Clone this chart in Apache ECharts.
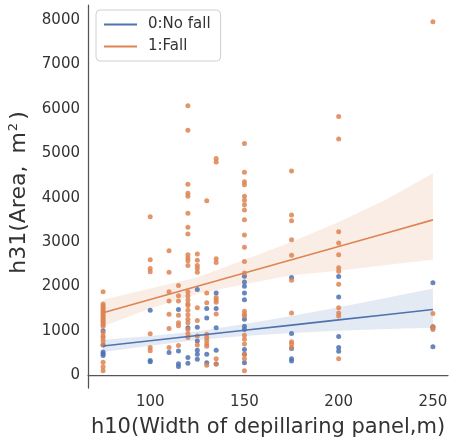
<!DOCTYPE html>
<html>
<head>
<meta charset="utf-8">
<script src="https://cdn.jsdelivr.net/npm/echarts@6/dist/echarts.min.js"></script>
<style>
  html, body { margin: 0; padding: 0; background: #fff; }
  #chart { width: 449px; height: 438px; }
</style>
</head>
<body>
<div id="chart"></div>
<script>
// 每列的宽度（h10）
var widths = [75, 100, 110, 115, 120, 125, 130, 135, 150, 175, 200, 250];

// 1:Fall 面积 (按宽度分组)
var fallArea = [
  [1880, 1600, 1560, 1520, 1480, 1440, 1400, 1360, 1320, 1290, 1250, 1220, 1180, 1140, 1100, 960, 880, 840, 770, 680, 290, 190, 100],
  [3570, 2600, 2400, 2330, 930, 620, 550],
  [2800, 2320, 1880, 1670, 1370, 1050, 620],
  [2020, 1790, 1670, 1350, 1180, 1110, 670],
  [6070, 5520, 4300, 4100, 4030, 3650, 3330, 3180, 2710, 2640, 2580, 2470, 1880, 1790, 1700, 1610, 1570, 1460, 1360, 1260, 1180, 1030, 930, 850],
  [2730, 2590, 2470, 2400, 2320, 1520, 1230, 880, 680],
  [3930, 1850, 1630, 920, 850, 780, 700, 650, 220],
  [4880, 4800, 2620, 2540, 1750, 1700, 1640, 1380, 370, 250],
  [5220, 4570, 4360, 4290, 4030, 3940, 3840, 3720, 3500, 3160, 2880, 2560, 2300, 1440, 1370, 1330, 900, 810, 700, 470, 370, 100],
  [4600, 3610, 3480, 3050, 2700, 2140, 1400, 750, 700, 620],
  [5830, 5320, 3230, 2980, 2710, 2420, 2340, 2050, 1520, 1400, 1330, 370],
  [7960, 1390, 1090, 1030]
];

// 0:No fall 面积
var noFallArea = [
  [1000, 680, 520, 480, 440],
  [1460, 330, 300],
  [510],
  [1480, 545, 255, 195],
  [1070, 400, 265],
  [1930, 1080, 770, 560, 470, 360],
  [1500, 1290, 470, 280],
  [1850, 1500, 1070, 560, 250],
  [2230, 2100, 2000, 1850, 1700, 1260, 1100, 1030, 580, 470, 280],
  [2200, 940, 600, 370, 320],
  [2220, 1760, 870, 620, 540],
  [2080, 1090, 1060, 640]
];

// 回归线和置信区间
var fitX = [75, 100, 125, 150, 175, 200, 225, 250];
var fallFit = [1405, 1704, 2003, 2302, 2600, 2900, 3199, 3498];
var fallLow = [1100, 1500, 1830, 2050, 2250, 2350, 2480, 2600];
var fallHigh = [1700, 1950, 2200, 2600, 3000, 3450, 3950, 4550];
var noFallFit = [657, 774, 892, 1010, 1127, 1245, 1362, 1480];
var noFallLow = [520, 660, 790, 880, 950, 1000, 1040, 1070];
var noFallHigh = [800, 880, 990, 1150, 1330, 1530, 1740, 1950];

var xTicks = [100, 150, 200, 250];
var yTicks = [0, 1000, 2000, 3000, 4000, 5000, 6000, 7000, 8000];

var BLUE = '#4C72B0';
var ORANGE = '#DD8452';

function points(groups) {
  var out = [];
  for (var i = 0; i < groups.length; i++) {
    for (var j = 0; j < groups[i].length; j++) {
      out.push([widths[i], groups[i][j]]);
    }
  }
  return out;
}

function pairs(xs, ys) {
  var out = [];
  for (var i = 0; i < xs.length; i++) out.push([xs[i], ys[i]]);
  return out;
}

// 置信带：用一个多边形画
function band(name, low, high, color) {
  var data = [];
  for (var i = 0; i < fitX.length; i++) data.push([fitX[i], low[i], high[i]]);
  return {
    name: name,
    type: 'custom',
    silent: true,
    data: data,
    encode: { x: 0, y: [1, 2] },
    renderItem: function (params, api) {
      if (params.dataIndex !== 0) return;
      var pts = [];
      for (var i = 0; i < data.length; i++) pts.push(api.coord([data[i][0], data[i][2]]));
      for (var k = data.length - 1; k >= 0; k--) pts.push(api.coord([data[k][0], data[k][1]]));
      return {
        type: 'polygon',
        shape: { points: pts },
        style: { fill: color, opacity: 0.15 }
      };
    }
  };
}

var myChart = echarts.init(document.getElementById('chart'));
var font = 'DejaVu Sans';

myChart.setOption({
  animation: false,
  backgroundColor: '#fff',
  grid: { left: 88, right: 1, top: 5, bottom: 50, outerBoundsMode: 'none', containLabel: false },
  legend: {
    data: ['0:No fall', '1:Fall'],
    orient: 'vertical',
    left: 96,
    top: 10,
    icon: 'rect',
    itemWidth: 33,
    itemHeight: 2,
    itemGap: 7,
    padding: [7, 10, 7, 8],
    borderColor: '#d0d0d0',
    borderWidth: 1,
    borderRadius: 4,
    backgroundColor: '#fff',
    textStyle: { fontFamily: font, fontSize: 15, color: '#333', padding: [0, 0, 0, 6] }
  },
  xAxis: {
    type: 'value',
    min: 67,
    max: 258,
    name: 'h10(Width of depillaring panel,m)',
    nameLocation: 'middle',
    nameGap: 29,
    nameTextStyle: { fontFamily: font, fontSize: 21, color: '#333' },
    axisLine: { show: true, lineStyle: { color: '#555', width: 1.25 } },
    axisTick: { show: false },
    splitLine: { show: false },
    axisLabel: { customValues: xTicks, fontFamily: font, fontSize: 15, color: '#333', margin: 7 }
  },
  yAxis: {
    type: 'value',
    min: -290,
    max: 8340,
    name: '{a|h31(Area,}{m|m}{s|2}{a|)}',
    nameLocation: 'middle',
    nameGap: 56,
    nameTextStyle: {
      fontFamily: font, fontSize: 22, color: '#333', padding: [0, 0, 0, 8],
      rich: {
        a: { fontFamily: font, fontSize: 22, color: '#333' },
        m: { fontFamily: font, fontSize: 22, color: '#333', padding: [0, 0, 0, 12] },
        s: { fontFamily: font, fontSize: 13, color: '#333', padding: [0, 3, 12, 1] }
      }
    },
    axisLine: { show: true, lineStyle: { color: '#555', width: 1.25 } },
    axisTick: { show: false },
    splitLine: { show: false },
    axisLabel: {
      customValues: yTicks, fontFamily: font, fontSize: 15, color: '#333', margin: 8,
      formatter: function (v) { return String(v); }
    }
  },
  series: [
    {
      name: 'nofall-pts',
      type: 'scatter',
      symbolSize: 5,
      itemStyle: { color: BLUE, opacity: 0.85 },
      data: points(noFallArea)
    },
    band('nofall-ci', noFallLow, noFallHigh, BLUE),
    {
      name: '0:No fall',
      type: 'line',
      showSymbol: false,
      symbol: 'none',
      lineStyle: { color: BLUE, width: 1.6 },
      itemStyle: { color: BLUE },
      data: pairs(fitX, noFallFit)
    },
    {
      name: 'fall-pts',
      type: 'scatter',
      symbolSize: 5,
      itemStyle: { color: ORANGE, opacity: 0.85 },
      data: points(fallArea)
    },
    band('fall-ci', fallLow, fallHigh, ORANGE),
    {
      name: '1:Fall',
      type: 'line',
      showSymbol: false,
      symbol: 'none',
      lineStyle: { color: ORANGE, width: 1.6 },
      itemStyle: { color: ORANGE },
      data: pairs(fitX, fallFit)
    }
  ]
});
</script>
</body>
</html>
